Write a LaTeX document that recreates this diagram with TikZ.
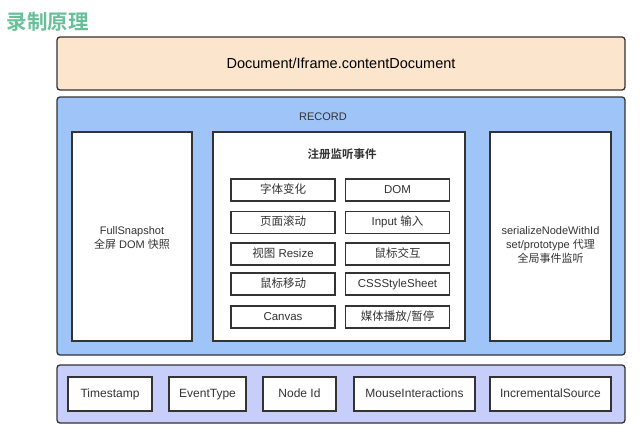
\documentclass[tikz,border=0pt]{standalone}
\usepackage{fontspec}
\setmainfont{Liberation Sans}
\newfontfamily\cjkfont{Noto Sans CJK SC}[BoldFont={Noto Sans CJK SC Bold}]
\newcommand{\zh}[1]{{\cjkfont #1}}
\usepackage{tikz}
\usetikzlibrary{positioning}
\definecolor{peach}{RGB}{252,229,205}
\definecolor{recblue}{RGB}{159,197,248}
\definecolor{lavender}{RGB}{199,206,250}
\definecolor{mint}{RGB}{104,192,152}
\definecolor{ink}{RGB}{51,51,51}
\tikzset{
  layer/.style={draw=ink,line width=1.3pt,rounded corners=3pt,minimum width=568pt},
  panel/.style={draw=ink,line width=1.2pt,fill=white,minimum height=209pt},
  evbox/.style={draw=ink,line width=1.3pt,fill=white,minimum width=104pt,minimum height=22pt,
    text height=8.5pt,text depth=2.5pt,font=\fontsize{11.5}{13}\selectfont,text=ink},
  fieldbox/.style={draw=ink,line width=1.3pt,fill=white,minimum height=34pt,
    text height=9pt,text depth=3pt,font=\fontsize{12}{14}\selectfont,text=ink},
  lbl/.style={font=\fontsize{11}{14}\selectfont,text=ink,align=center}
}
\begin{document}
\begin{tikzpicture}[x=1pt,y=-1pt]
\useasboundingbox[fill=white] (0,0) rectangle (644,439);
\node[text=mint,font=\cjkfont\bfseries\fontsize{20.5}{22}\selectfont,anchor=west] (title) at (3,22) {录制原理};
\node[layer,fill=peach,minimum height=53pt,font=\fontsize{14.5}{16}\selectfont] (doc) at (341,63.5) {Document/Iframe.contentDocument};
\node[layer,fill=recblue,minimum height=258pt] (record) at (341,226) {};
\node[layer,fill=lavender,minimum height=58pt] (fields) at (341,394) {};
\node[font=\fontsize{11}{13}\selectfont,text=ink] (rectitle) at (323,117) {RECORD};
% three panels
\node[panel,minimum width=120pt] (full) at (132,236.5) {};
\node[panel,minimum width=252pt] (events) at (339,236.5) {};
\node[panel,minimum width=121pt] (serial) at (550.5,236.5) {};
\node[lbl] (fulltext) at (132,238) {FullSnapshot\\\zh{全屏} DOM \zh{快照}};
\node[lbl] (serialtext) at (550.5,245) {serializeNodeWithId\\set/prototype \zh{代理}\\\zh{全局事件监听}};
\node[font=\cjkfont\bfseries\fontsize{11.5}{13}\selectfont,text=ink] (evtitle) at (342,154) {注册监听事件};
% event boxes
\node[evbox] (font) at (283,190) {\zh{字体变化}};
\node[evbox] (dom) at (397.5,190) {DOM};
\node[evbox] (scroll) at (283,222.5) {\zh{页面滚动}};
\node[evbox] (input) at (397.5,222.5) {Input \zh{输入}};
\node[evbox] (resize) at (283,254) {\zh{视图} Resize};
\node[evbox] (mouseint) at (397.5,254) {\zh{鼠标交互}};
\node[evbox] (mousemove) at (283,284) {\zh{鼠标移动}};
\node[evbox] (css) at (397.5,284) {CSSStyleSheet};
\node[evbox] (canvas) at (283,317) {Canvas};
\node[evbox] (media) at (397.5,317) {\zh{媒体播放/暂停}};
% data fields
\node[fieldbox,minimum width=84pt] (stamp) at (110,394) {Timestamp};
\node[fieldbox,minimum width=77pt] (evtype) at (207.5,394) {EventType};
\node[fieldbox,minimum width=73pt] (nodeid) at (299.5,394) {Node Id};
\node[fieldbox,minimum width=121pt] (mouse) at (414.5,394) {MouseInteractions};
\node[fieldbox,minimum width=121pt] (incr) at (550.5,394) {IncrementalSource};
\end{tikzpicture}
\end{document}
